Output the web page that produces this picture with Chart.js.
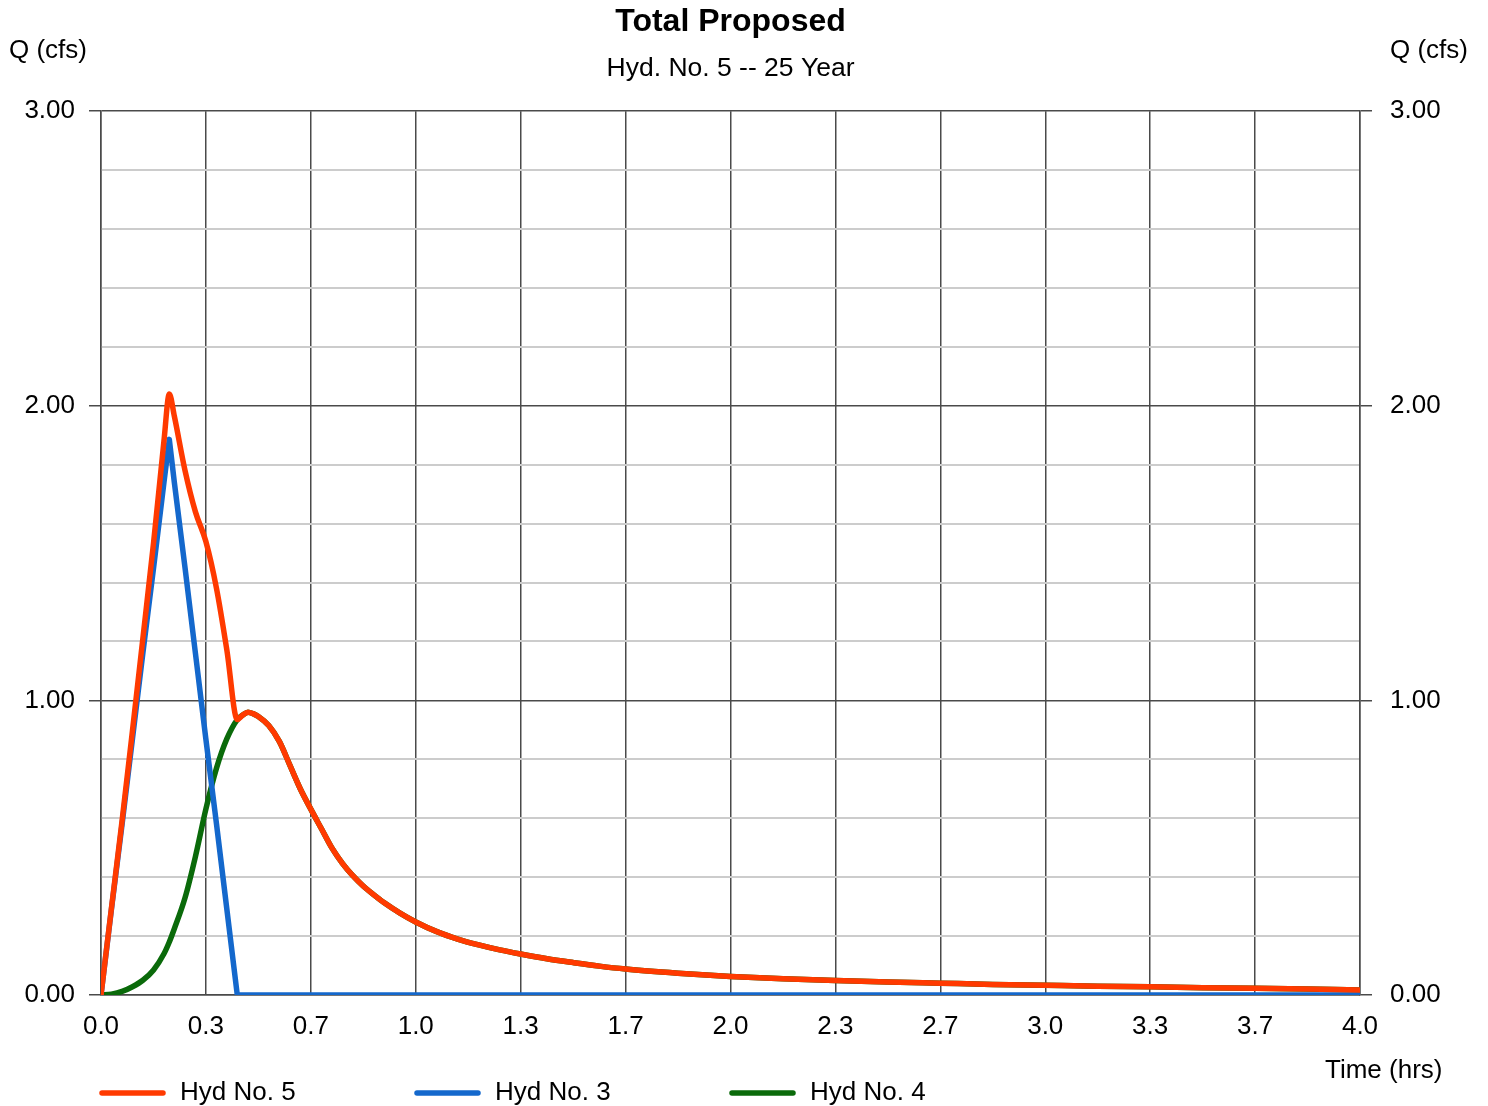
<!DOCTYPE html>
<html>
<head>
<meta charset="utf-8">
<title>Total Proposed</title>
<script src="https://cdn.jsdelivr.net/npm/chart.js@4.4.1/dist/chart.umd.min.js"></script>
<style>
    html, body { margin: 0; padding: 0; background: #fff; }
    canvas { display: block; }
</style>
</head>
<body>
<canvas id="chart" width="1488" height="1106"></canvas>
<script>
// hydrograph ordinates (hrs, cfs)
const TIME = [0, 0.033, 0.067, 0.1, 0.133, 0.167, 0.2, 0.217, 0.233, 0.267,
    0.3, 0.333, 0.367, 0.4, 0.433, 0.45, 0.467, 0.483, 0.5, 0.533,
    0.567, 0.6, 0.633, 0.667, 0.7, 0.733, 0.767, 0.8, 0.833, 0.867,
    0.9, 0.95, 1.0, 1.067, 1.133, 1.2, 1.267, 1.333, 1.417, 1.5,
    1.583, 1.667, 1.833, 2.0, 2.167, 2.333, 2.5, 2.667, 2.833, 3.0,
    3.167, 3.333, 3.5, 3.667, 3.833, 4.0];
const HYD5 = [0, 0.293, 0.592, 0.898, 1.21, 1.535, 1.88, 2.04, 1.965, 1.78,
    1.64, 1.54, 1.38, 1.17, 0.935, 0.95, 0.96, 0.955, 0.945, 0.915,
    0.86, 0.78, 0.70, 0.63, 0.565, 0.50, 0.447, 0.405, 0.37, 0.34,
    0.313, 0.278, 0.248, 0.215, 0.19, 0.17, 0.153, 0.139, 0.123, 0.11,
    0.098, 0.088, 0.074, 0.063, 0.055, 0.049, 0.044, 0.04, 0.036, 0.033,
    0.03, 0.028, 0.025, 0.023, 0.02, 0.017];
const HYD3 = [0, 0.29, 0.58, 0.87, 1.16, 1.45, 1.74, 1.886, 1.74, 1.45,
    1.16, 0.87, 0.58, 0.29, 0, 0, 0, 0, 0, 0,
    0, 0, 0, 0, 0, 0, 0, 0, 0, 0,
    0, 0, 0, 0, 0, 0, 0, 0, 0, 0,
    0, 0, 0, 0, 0, 0, 0, 0, 0, 0,
    0, 0, 0, 0, 0, 0];
const HYD4 = [0, 0.003, 0.012, 0.028, 0.05, 0.085, 0.14, 0.18, 0.225, 0.33,
    0.47, 0.63, 0.77, 0.87, 0.935, 0.95, 0.96, 0.955, 0.945, 0.915,
    0.86, 0.78, 0.70, 0.63, 0.565, 0.50, 0.447, 0.405, 0.37, 0.34,
    0.313, 0.278, 0.248, 0.215, 0.19, 0.17, 0.153, 0.139, 0.123, 0.11,
    0.098, 0.088, 0.074, 0.063, 0.055, 0.049, 0.044, 0.04, 0.036, 0.033,
    0.03, 0.028, 0.025, 0.023, 0.02, 0.017];

const SERIES_NAMES = ["Hyd No. 5", "Hyd No. 3", "Hyd No. 4"];
const SERIES_COLORS = ["#ff3a00", "#1468cc", "#0a6a0a"];
const X_TICK_LABELS = ["0.0", "0.3", "0.7", "1.0", "1.3", "1.7", "2.0",
    "2.3", "2.7", "3.0", "3.3", "3.7", "4.0"];
const Y_TICK_LABELS = ["0.00", "1.00", "2.00", "3.00"];

const FONT = "'Liberation Sans', Arial, Helvetica, sans-serif";
const DARK = "#4a4a4a";
const LIGHT = "#cccccc";

function is_major(v) {
    return Math.abs(v - Math.round(v)) < 1e-6;
}

function points(ys) {
    return TIME.map((t, i) => ({x: t, y: ys[i]}));
}

// axis captions and bottom legend
const extras = {
    id: "extras",
    afterDraw(chart) {
        const ctx = chart.ctx;
        ctx.save();
        ctx.fillStyle = "#000";
        ctx.font = "26px " + FONT;
        ctx.textBaseline = "middle";
        ctx.textAlign = "left";
        ctx.fillText("Q (cfs)", 9, 51);
        ctx.fillText("Q (cfs)", 1390, 51);
        ctx.fillText("Time (hrs)", 1325, 1071);

        chart.data.datasets.forEach((ds, i) => {
            const x0 = 100 + i * 315, y = 1093;
            ctx.strokeStyle = ds.borderColor;
            ctx.lineWidth = 5.5;
            ctx.lineCap = "round";
            ctx.beginPath();
            ctx.moveTo(x0 + 2, y);
            ctx.lineTo(x0 + 63, y);
            ctx.stroke();
            ctx.fillStyle = "#000";
            ctx.fillText(ds.label, x0 + 80, y);
        });
        ctx.restore();
    }
};

function y_axis(position, width, pad) {
    return {
        type: "linear",
        position,
        min: 0,
        max: 3,
        afterFit: s => { s.width = width; },
        ticks: {
            stepSize: 0.2,
            autoSkip: false,
            padding: pad,
            color: "#000",
            font: {size: 26, family: FONT},
            callback: v => is_major(v) ? Y_TICK_LABELS[Math.round(v)] : ""
        },
        grid: {
            drawOnChartArea: position === "left",
            tickLength: 12,
            color: c => is_major(c.tick.value) ? DARK : LIGHT,
            lineWidth: c => is_major(c.tick.value) ? 1.5 : 2,
            tickColor: c => is_major(c.tick.value) ? DARK : "rgba(0,0,0,0)"
        },
        border: {display: true, color: DARK, width: 1.5}
    };
}

new Chart(document.getElementById("chart"), {
    type: "line",
    data: {
        datasets: [HYD5, HYD3, HYD4].map((ys, i) => ({
            label: SERIES_NAMES[i],
            data: points(ys),
            borderColor: SERIES_COLORS[i],
            backgroundColor: SERIES_COLORS[i],
            borderWidth: 5.5,
            borderCapStyle: "round",
            borderJoinStyle: "round",
            pointRadius: 0,
            // blue one is a plain triangle, the others are smooth
            cubicInterpolationMode: i === 1 ? "default" : "monotone",
            tension: 0,
            fill: false
        }))
    },
    options: {
        responsive: false,
        animation: false,
        layout: {padding: {top: 0, left: 0, right: 0, bottom: 61}},
        plugins: {
            legend: {display: false},
            tooltip: {enabled: false},
            title: {
                display: true,
                fullSize: false,
                text: "Total Proposed",
                color: "#000",
                font: {size: 32, weight: "bold", family: FONT},
                padding: {top: 3, bottom: 0}
            },
            subtitle: {
                display: true,
                fullSize: false,
                text: "Hyd. No. 5 -- 25 Year",
                color: "#000",
                font: {size: 26.5, family: FONT},
                padding: {top: 11, bottom: 27}
            }
        },
        scales: {
            x: {
                type: "linear",
                min: 0,
                max: 4,
                afterFit: s => { s.height = 50; },
                afterBuildTicks: s => {
                    s.ticks = X_TICK_LABELS.map((_, i) => ({value: i * 4 / 12}));
                },
                ticks: {
                    autoSkip: false,
                    maxRotation: 0,
                    padding: 16,
                    color: "#000",
                    font: {size: 26, family: FONT},
                    callback: (v, i) => X_TICK_LABELS[i]
                },
                grid: {color: DARK, lineWidth: 1.5, drawTicks: false},
                border: {display: true, color: DARK, width: 1.5}
            },
            y: y_axis("left", 101, 14),
            y2: y_axis("right", 128, 18)
        }
    },
    plugins: [extras]
});
</script>
</body>
</html>
